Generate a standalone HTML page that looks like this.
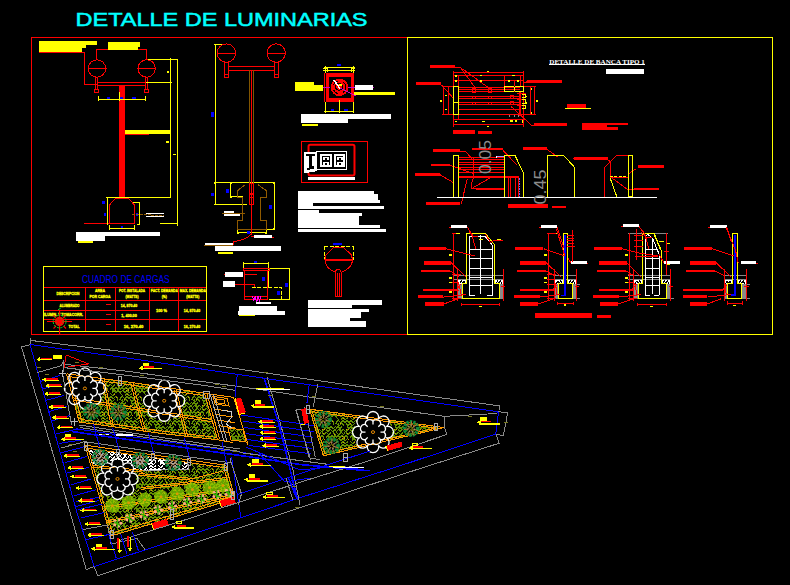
<!DOCTYPE html>
<html><head><meta charset="utf-8"><title>DETALLE DE LUMINARIAS</title>
<style>
html,body{margin:0;padding:0;background:#000;overflow:hidden}
svg{display:block}
text{font-family:"Liberation Sans",sans-serif}
.s{font-family:"Liberation Serif",serif}
.c{shape-rendering:crispEdges}
.r{stroke:#f00;fill:none}
.y{stroke:#ff0;fill:none}
.b{stroke:#00f;fill:none}
.w{stroke:#fff;fill:none}
.g{stroke:#888;fill:none}
.t *{vector-effect:non-scaling-stroke}
.fr{fill:#f00}.fy{fill:#ff0}.fw{fill:#fff}.fb{fill:#00f}
</style></head><body>
<svg width="790" height="585" viewBox="0 0 790 585">
<rect width="790" height="585" fill="#000"/>
<!-- title -->
<text x="75.5" y="25.6" font-size="19" fill="#0ff" stroke="#0ff" stroke-width="0.5" textLength="292" lengthAdjust="spacingAndGlyphs">DETALLE DE LUMINARIAS</text>
<!-- frames -->
<g class="c">
<path class="r" d="M407.5 37.5H31.5V334.5H407.5"/>
<rect class="y" x="407.5" y="37.5" width="365" height="297"/>
</g>

<!-- tile A: lamp elevation 1 (upper) -->
<g class="t c" transform="translate(20,30) scale(0.25641)">
<path class="fy" d="M75 43H300V58H258V72H240V88H75Z"/>
<path class="r" d="M75 89H240M240 86H250V212H300"/>
<path class="r" d="M298 115V75H493V115"/>
<path class="fy" d="M343 47H468V66H460V78H343Z"/>
<circle class="r" cx="300" cy="150" r="34"/><path class="r" d="M264 150H338"/>
<circle class="r" cx="494" cy="150" r="34"/><path class="r" d="M458 150H532"/>
<path class="r" d="M294 184V232H290V242H308V232H304V184M294 232H304"/>
<path class="r" d="M488 184V232H484V242H502V232H498V184M488 232H498"/>
<path class="r" d="M306 203H488M306 215H488"/>
<rect class="fr" x="388" y="215" width="22" height="400"/>
<path class="y" d="M305 270H488M305 258V278M388 240V278M488 258V278"/>
<rect class="fb" x="340" y="262" width="11" height="6"/><rect class="fb" x="391" y="261" width="12" height="8"/><rect class="fb" x="438" y="262" width="13" height="6"/>
<path class="y" d="M498 115H613V600M587 108V600M490 204H594"/>
<rect class="fy" x="410" y="391" width="177" height="15"/><path class="r" d="M410 408H502"/>
<rect class="fy" x="573" y="159" width="8" height="9"/><rect class="fy" x="569" y="432" width="12" height="8"/><rect class="fy" x="597" y="483" width="11" height="4"/>
</g>
<!-- tile A2: lamp elevation 1 (lower) -->
<g class="t c" transform="translate(20,170) scale(0.25641)">
<rect class="fr" x="388" y="0" width="22" height="112"/>
<path class="r" d="M350 135L372 112H425L445 135V210H350ZM250 210H350"/>
<path class="y" d="M340 108V215M335 108H590M587 0V108M613 0V218M545 210H613M467 128V212M350 228H445M350 214V234M445 214V234M440 128H467M455 212H467"/>
<rect class="fb" x="321" y="122" width="9" height="11"/><rect class="fb" x="326" y="167" width="9" height="11"/><rect class="fb" x="451" y="167" width="9" height="11"/><rect class="fb" x="392" y="218" width="9" height="9"/>
<path d="M435 172L560 178" stroke="#905a00" fill="none" stroke-dasharray="3 1"/>
<rect class="fw" x="490" y="167" width="70" height="6"/><rect class="fw" x="490" y="178" width="70" height="7"/>
<path class="fw" d="M218 242H547V256H332V278H218Z"/>
<rect class="fy" x="228" y="277" width="57" height="7"/>
</g>

<!-- table -->
<g class="c">
<rect class="y" x="43.5" y="266.5" width="163" height="65"/>
<path class="r" d="M44 287.5H206M44 300.5H206M44 310.5H150M44 319.5H206M85.5 288V331M115.5 288V331M149.5 288V331M178.5 288V331"/>
</g>
<text x="82" y="283.2" font-size="11.2" fill="#00f" textLength="87.5" lengthAdjust="spacingAndGlyphs">CUADRO DE CARGAS</text>
<g font-size="4.3" font-weight="bold" fill="#ff0" text-anchor="middle" stroke="#ff0" stroke-width="0.35">
<text x="68" y="294.6" textLength="23" lengthAdjust="spacingAndGlyphs">DESCRIPCION</text>
<text x="100" y="292.3" textLength="10" lengthAdjust="spacingAndGlyphs">AREA</text>
<text x="100" y="297.8" textLength="21" lengthAdjust="spacingAndGlyphs">POR CARGA</text>
<text x="132" y="292.3" textLength="26" lengthAdjust="spacingAndGlyphs">POT. INSTALADA</text>
<text x="132" y="297.8" textLength="13" lengthAdjust="spacingAndGlyphs">(WATTS)</text>
<text x="164.3" y="292.3" textLength="27" lengthAdjust="spacingAndGlyphs">FACT. DEMANDA</text>
<text x="164.3" y="297.8" textLength="5" lengthAdjust="spacingAndGlyphs">(%)</text>
<text x="192.8" y="292.3" textLength="26" lengthAdjust="spacingAndGlyphs">MAX. DEMANDA</text>
<text x="192.8" y="297.8" textLength="13" lengthAdjust="spacingAndGlyphs">(WATTS)</text>
<text x="69.5" y="307.3" textLength="20" lengthAdjust="spacingAndGlyphs">ALUMBRADO</text>
<text x="63.5" y="316.3" textLength="39" lengthAdjust="spacingAndGlyphs">ILUMIN. Y TOMACORR.</text>
<text x="74" y="327.5" textLength="11" lengthAdjust="spacingAndGlyphs">TOTAL</text>
<text x="129" y="306.8" textLength="16.5" lengthAdjust="spacingAndGlyphs">14, 870.40</text>
<text x="129" y="317.3" textLength="15.5" lengthAdjust="spacingAndGlyphs">1, 400.00</text>
<text x="133.5" y="327.5" textLength="19.5" lengthAdjust="spacingAndGlyphs">16, 270.40</text>
<text x="161.5" y="311.5" textLength="11" lengthAdjust="spacingAndGlyphs">100 %</text>
<text x="192" y="312.3" textLength="16.5" lengthAdjust="spacingAndGlyphs">14, 870.40</text>
<text x="192" y="327.5" textLength="16.5" lengthAdjust="spacingAndGlyphs">16, 270.40</text>
</g>
<g class="c"><path class="r" d="M106 304.5H111M106 314.5H111M106 324.5H111"/></g>
<!-- tree symbol on table -->
<g>
<path d="M47 321.5H72M59.6 310V334M53.5 315.5L56 318M65.5 315.5L63 318M53.5 328.5L56 326M66 328.5L63.5 326" stroke="#f00" stroke-width="1.1" fill="none"/>
<circle cx="59.6" cy="321.5" r="4.7" fill="#f00"/>
<circle cx="59.6" cy="321.5" r="6.4" fill="none" stroke="#0d2" stroke-width="1" stroke-dasharray="2.2 1.2"/>
<circle cx="59.6" cy="321.5" r="3.6" fill="none" stroke="#0d2" stroke-width="0.8" stroke-dasharray="1.2 1.8"/>
<path d="M58 309.8L60.8 308" stroke="#0d2" stroke-width="1" fill="none"/>
</g>

<!-- tile B: lamp elevation 2 (upper) s=3.9 -->
<g class="t c" transform="translate(200,30) scale(0.25641)">
<path class="y" d="M60 55V600M55 55H95"/>
<circle class="r" cx="103" cy="90" r="36"/><path class="r" d="M66 90H141"/>
<circle class="r" cx="297" cy="90" r="36"/><path class="r" d="M260 90H335"/>
<path class="r" d="M96 126V185H112V126M96 174H112M290 126V185H306V126M290 174H306"/>
<path class="r" d="M112 143H290M112 157H290M200 157V600"/>
<path d="M193 157V600M207 157V600" stroke="#805500" fill="none"/>
<rect class="fb" x="43" y="320" width="10" height="18"/>
<!-- control panel -->
</g>
<!-- ceiling lamp detail s=7.18 origin 290,55 -->
<g class="t c" transform="translate(290,55) scale(0.139276)">
<path class="fr" d="M262 130H460V335H262ZM283 155V310H440V155Z" fill-rule="evenodd"/>
<path class="r" d="M251 130V335"/>
<circle cx="355" cy="232" r="63" fill="#f00"/>
<circle cx="355" cy="232" r="46" fill="none" stroke="#000" stroke-dasharray="6 5" stroke-width="1"/>
<circle cx="352" cy="228" r="24" fill="none" stroke="#000" stroke-width="1"/>
<path d="M237 232H290M420 232H600M360 238L470 292" stroke="#c0c" fill="none"/>
<path d="M315 180L360 242" stroke="#fff" stroke-width="1.5" fill="none"/>
<rect class="fy" x="353" y="210" width="19" height="16"/>
<path class="fy" d="M37 195H170V215H235V258H37Z"/>
<rect class="fw" x="467" y="217" width="130" height="33"/>
<rect class="fy" x="460" y="265" width="295" height="23"/>
<path class="y" d="M245 88H468M240 108H470M257 80V130M455 80V130M252 335V415M355 320V415M457 335V415M247 408H462" stroke-width="1"/>
<path class="y" d="M240 100H272V125M470 100H440V125" />
<rect class="fb" x="338" y="65" width="27" height="17"/><rect class="fb" x="295" y="388" width="20" height="12"/><rect class="fb" x="388" y="388" width="27" height="12"/>
<path class="fw" d="M80 425H725V460H415V488H80Z"/>
<rect class="fy" x="88" y="495" width="112" height="15"/>
</g>
<!-- control panel s=7.18 origin 290,130 -->
<g class="t c" transform="translate(290,130) scale(0.139276)">
<rect class="r" x="80" y="80" width="478" height="298"/>
<rect class="r" x="133" y="106" width="330" height="220" rx="12" stroke-width="2" style="shape-rendering:auto"/>
<rect class="w" x="192" y="152" width="216" height="133"/>
<path class="fw" d="M103 158H192V295L103 312Z"/>
<path d="M118 170H180V184H160V262H175V275L125 290V276H138V184H118Z" fill="#000"/>
<rect x="222" y="176" width="70" height="86" fill="none" stroke="#fff" stroke-width="2"/>
<rect x="322" y="176" width="68" height="86" fill="none" stroke="#fff" stroke-width="2"/>
<path class="fw" d="M236 192H278V214H236ZM236 228H278V250H236ZM334 192H378V214H334ZM334 228H378V250H334Z"/>
<path d="M250 200H264V214H250ZM250 236H264V250H250ZM349 200H363V214H349ZM349 236H363V250H349Z" fill="#000"/>
<rect class="fw" x="130" y="338" width="337" height="20"/>
</g>
<!-- text block right s=7.18 origin 290,185 -->
<g class="t c" transform="translate(290,185) scale(0.139276)">
<path class="fw" d="M58 43H603V65H632V108H645V128H165V150H675V172H58ZM58 180H208V203H517V222H495V288H645V308H58ZM58 316H690V338H58Z"/>
</g>

<!-- tile B2: lamp elevation 2 (lower) s=3.9 origin 200,170 -->
<g class="t c" transform="translate(200,170) scale(0.25641)">
<path class="y" d="M60 0V135H185M60 50H290V232M120 50V105H167M147 245H258M148 232V250M258 232V250M255 232H290"/>
<rect class="fy" x="56" y="46" width="7" height="7"/><rect class="fy" x="116" y="46" width="7" height="7"/><rect class="fy" x="286" y="46" width="7" height="7"/><rect class="fy" x="56" y="131" width="7" height="7"/><rect class="fy" x="116" y="101" width="7" height="7"/><rect class="fy" x="286" y="228" width="7" height="7"/><rect class="fy" x="144" y="241" width="7" height="7"/><rect class="fy" x="254" y="241" width="7" height="7"/>
<rect class="fb" x="103" y="75" width="10" height="13"/><rect class="fb" x="43" y="90" width="10" height="10"/><rect class="fb" x="270" y="137" width="10" height="15"/><rect class="fb" x="185" y="238" width="10" height="10"/>
<path d="M176 58L147 80V106H167V197H147V232H258V197H236V106H258V80L227 58" stroke="#905a00" fill="none"/>
<path d="M193 0V52M207 0V52" stroke="#805500" fill="none"/>
<path class="r" d="M193 52H207V135H193ZM193 90H207M193 97H207M193 107H207M200 0V250C190 262 160 275 130 280V292"/>
<path d="M85 170H175M15 293H130" stroke="#905a00" fill="none"/>
<rect class="fw" x="92" y="160" width="40" height="8"/><rect class="fw" x="95" y="173" width="60" height="7"/>
<rect class="fw" x="210" y="253" width="72" height="12"/><path class="r" d="M200 258H210M282 262H288"/>
<rect class="fw" x="20" y="285" width="110" height="7"/>
<rect class="fw" x="58" y="298" width="257" height="17"/><rect class="fy" x="70" y="320" width="58" height="7"/>
<!-- lamp symbol -->
<path class="y" d="M485 297H597M487 297V350M597 297V350" stroke-dasharray="4 1.5"/>
<rect class="fb" x="520" y="283" width="33" height="10"/>
<path class="r" d="M487 350L492 330L520 303H560L590 330L595 350" />
<path class="r" d="M487 350C487 372 505 392 528 398M595 350C595 372 575 392 552 398"/>
<path class="r" d="M487 350H595" stroke-width="2"/>
<path class="r" d="M528 398V495H550V398C550 385 528 385 528 398M536 402V490M543 402V490"/>
</g>
<!-- junction box + text, s=3.76 origin 200,250 -->
<g class="t c" transform="translate(200,250) scale(0.265957)">
<path class="y" d="M163 50H258M165 45V70M257 45V70M258 70H337V187H258M258 70V140"/>
<path class="y" d="M195 140H305V187" stroke-dasharray="4 1.5"/>
<path class="r" d="M165 68H262V76H165ZM167 76V185H255V76M167 92H213M130 128H198C206 128 208 134 205 140M167 176H255" />
<path d="M197 172L203 190L208 172L213 200L218 172L224 190L230 172M212 200H268" stroke="#f0f" fill="none"/>
<rect class="fb" x="233" y="100" width="10" height="15"/><rect class="fb" x="320" y="125" width="10" height="13"/><rect class="fb" x="290" y="155" width="10" height="13"/><rect class="fb" x="203" y="42" width="10" height="7"/>
<rect class="fw" x="93" y="83" width="67" height="20"/><path class="r" d="M90 92H95"/>
<rect class="fw" x="88" y="117" width="42" height="21"/>
<rect class="fw" x="212" y="195" width="56" height="9"/>
<path class="fw" d="M148 210H290V230H318V243H143V230H148Z"/>
<rect class="fy" x="148" y="243" width="57" height="7"/>
<path class="fw" d="M407 188H685V205H570V218H407ZM407 222H635V235H605V255H565V268H625V288H407Z"/>
</g>

<!-- bench plan s=4.9375 origin 410,55 -->
<g class="t c" transform="translate(410,55) scale(0.202532)">
<rect class="fr" x="97" y="50" width="125" height="12"/><path class="r" d="M222 62H250L320 160M262 70L385 160"/>
<rect class="fr" x="28" y="135" width="127" height="12"/><path class="r" d="M155 147L215 215"/>
<rect class="fr" x="580" y="125" width="170" height="12"/><path class="r" d="M560 140L580 131"/>
<rect class="fr" x="610" y="337" width="165" height="12"/><path class="r" d="M610 347H600L500 255"/>
<rect class="fr" x="213" y="372" width="107" height="16"/><rect class="fr" x="337" y="375" width="66" height="13"/>
<path class="r" d="M213 85H560M213 103H560M213 128H560M215 80V355M558 80V355M213 320H560M213 345H560M240 103V320M467 100V155M547 103V155M517 128V155"/>
<path class="r" d="M165 155V298M190 155V298M160 155H215M160 295H215M593 155V298M617 155V298M560 155H620M560 295H620"/>
<path class="r" d="M240 160H545M240 172H545M240 181H545M240 205H545M240 213H545M240 236H545M240 244H545M240 268H545M240 295H558"/>
<path class="r" d="M310 165H324V185H310ZM388 165H400V185H388ZM310 205H324V213H310ZM388 205H400V213H388ZM310 236H324V244H310ZM388 236H400V244H388ZM498 198H510V216H498ZM498 228H510V246H498Z"/>
<path class="r" d="M540 180V300M548 180V300M530 190H575M530 220H575M530 250H575"/>
<rect class="y" x="213" y="155" width="27" height="140" rx="4"/><path class="y" d="M213 235H240"/>
<rect class="y" x="467" y="155" width="48" height="25" rx="5"/><rect class="y" x="517" y="155" width="43" height="25" rx="5"/>
<g class="fy">
<rect x="222" y="100" width="10" height="8"/><rect x="222" y="125" width="10" height="8"/><rect x="345" y="98" width="12" height="8"/><rect x="380" y="78" width="12" height="6"/><rect x="503" y="98" width="17" height="8"/><rect x="483" y="125" width="12" height="8"/><rect x="527" y="125" width="13" height="8"/>
<rect x="148" y="222" width="10" height="10"/><rect x="172" y="197" width="10" height="6"/><rect x="172" y="265" width="10" height="6"/><rect x="620" y="222" width="10" height="10"/><rect x="595" y="165" width="8" height="7"/><rect x="595" y="283" width="8" height="7"/>
<rect x="222" y="325" width="10" height="6"/><rect x="357" y="325" width="15" height="6"/><rect x="380" y="350" width="12" height="6"/><rect x="495" y="322" width="15" height="8"/><rect x="517" y="322" width="13" height="8"/><rect x="552" y="322" width="6" height="13"/>
<rect x="345" y="125" width="10" height="7"/>
</g>
<path class="y" d="M552 195H570V210H552M552 222H570V237H552M552 250H570V262H552"/>
<rect class="fy" x="572" y="200" width="8" height="8"/><rect class="fy" x="572" y="232" width="8" height="8"/>
<path class="g" d="M490 298V310M515 298V310M537 298V310" stroke-dasharray="2 1"/>
</g>

<!-- right panel title -->
<text class="s" x="549.3" y="64" font-size="7" font-weight="bold" fill="#fff" textLength="95.5" lengthAdjust="spacingAndGlyphs">DETALLE DE BANCA TIPO 1</text>
<g class="c"><path class="w" d="M549 64.5H645"/><rect class="fw" x="606" y="69" width="38" height="5"/></g>
<!-- misc right of plan s=4.9375 origin 530,50 -->
<g class="t c" transform="translate(530,50) scale(0.202532)">
<rect class="fr" x="183" y="267" width="94" height="18"/><path class="y" d="M173 289H302"/>
<path class="fr" d="M258 362H483V372H380V378H435V393H258Z"/>
</g>
<!-- bench elevations s=4.9375 origin 440,130 -->
<g class="t c" transform="translate(440,130) scale(0.202532)">
<rect class="fr" x="65" y="0" width="107" height="18"/><rect class="fr" x="190" y="5" width="65" height="13"/>
<rect class="fr" x="-33" y="96" width="133" height="11"/><path class="r" d="M98 105H125L165 150"/>
<rect class="fr" x="160" y="90" width="150" height="10"/><path class="r" d="M310 100L380 172"/>
<rect class="fr" x="-45" y="166" width="88" height="12"/><path class="r" d="M45 172L80 185L165 215"/>
<rect class="fr" x="-125" y="214" width="124" height="12"/><path class="r" d="M-1 220L68 261"/>
<rect class="fr" x="-71" y="356" width="171" height="14"/><path class="r" d="M105 365L135 240"/>
<rect class="fr" x="410" y="85" width="120" height="12"/><path class="r" d="M530 97L585 135"/>
<rect class="fr" x="663" y="135" width="150" height="13"/><path class="r" d="M655 145L663 140"/>
<path class="r" d="M92 135H318M92 148H318M92 160H318M92 172H318M92 185H318M92 197H318M92 210H318M165 140V240M160 240L155 290H310M155 290L250 235"/>
<rect class="fr" x="92" y="228" width="298" height="10"/>
<rect class="fr" x="180" y="288" width="135" height="7"/>
<path class="r" d="M340 238V332M350 238V332M372 238V332M388 238V332"/>
<rect class="y" x="67" y="125" width="25" height="207"/>
<path class="y" d="M318 332V125H370L412 212V332"/>
<path class="y" d="M530 332V125H610L665 185V332"/>
<path d="M275 133H318" stroke="#99f" fill="none"/><rect x="275" y="127" width="8" height="12" fill="#fff"/>
<path d="M388 228C394 228 392 260 393 332" stroke="#66f" fill="none" stroke-dasharray="1.5 1"/>
<path class="w" d="M-15 332H1072"/>
<rect class="fr" x="335" y="366" width="198" height="19"/><rect class="fr" x="553" y="375" width="67" height="10"/>
</g>
<g fill="#8c8c8c" font-size="16.5">
<text transform="translate(490.8,174) rotate(-90)" textLength="34" lengthAdjust="spacingAndGlyphs" >0.05</text>
<text transform="translate(545.5,204.5) rotate(-90)" textLength="35" lengthAdjust="spacingAndGlyphs">0.45</text>
</g>
<!-- side profile 2 s=3.9 origin 590,120 -->
<g class="t c" transform="translate(590,120) scale(0.25641)">
<rect class="fr" x="-30" y="145" width="102" height="11"/>
<path class="r" d="M57 300V185L103 140H150M72 156L80 165V222L145 270H270M150 210L180 190"/>
<rect class="fr" x="172" y="265" width="98" height="8"/><rect class="fr" x="187" y="177" width="103" height="10"/>
<rect class="y" x="150" y="138" width="15" height="162"/>
<path class="y" d="M78 225L105 300"/><path class="y" d="M78 222H150" stroke-dasharray="3 1.5"/><path class="r" d="M78 226H150"/>
</g>

<!-- section 1 s=5.85 origin 410,215 -->
<g class="t c" transform="translate(410,215) scale(0.17094)">
<rect x="283" y="403" width="22" height="87" fill="#888"/><rect x="525" y="403" width="20" height="87" fill="#888"/>
<path class="g" d="M250 352H545M250 378H545"/>
<rect class="fw" x="283" y="380" width="47" height="23"/><rect class="fw" x="497" y="380" width="46" height="23"/>
<path d="M290 400L300 385L308 398L316 386L324 400M503 400L512 386L520 398L528 386L537 400" stroke="#000" fill="none"/>
<path class="y" d="M330 400V107H440L495 175V400H525V490H305V400Z"/>
<path class="w" d="M348 470V125H440L485 180V470M413 118V460M348 200H485M348 255H485M348 312H485M348 365H485M348 415H485M348 470H380M450 470H485"/>
<rect class="fw" x="240" y="58" width="95" height="18"/><path class="r" d="M228 72H240M335 70L360 110L385 200M345 95L372 125H395"/>
<path class="r" d="M255 107V495M278 310V505M545 318V505M300 523H527M303 512V533M525 512V533M245 107H290M245 350H300M245 395H285M245 440H285M245 490H300M535 420H558"/>
<path class="fr" d="M55 187H210V203H55ZM80 270H240V290H80ZM65 320H235V332H65ZM75 432H270V443H75ZM45 468H195V485H45ZM90 510H200V530H90Z"/>
<path class="r" d="M210 197L380 240M240 278L330 365M235 328L285 358M270 440L300 400M195 480L330 465M200 520L285 488M285 400L300 470"/>
<g class="fy"><rect x="230" y="228" width="15" height="12"/><rect x="230" y="363" width="15" height="12"/><rect x="230" y="392" width="15" height="6"/><rect x="230" y="445" width="15" height="10"/><rect x="270" y="105" width="20" height="5"/><rect x="405" y="140" width="20" height="6"/><rect x="510" y="142" width="22" height="10"/><rect x="405" y="532" width="15" height="5"/></g>
<path class="r" d="M440 110L470 160L490 150H545"/>
</g>
<!-- section 2 s=5.85 origin 505,215 -->
<g class="t c" transform="translate(505,215) scale(0.17094)">
<rect x="292" y="405" width="20" height="85" fill="#888"/><rect x="395" y="405" width="20" height="85" fill="#888"/>
<path class="g" d="M290 352H415M290 378H415M395 405H440M395 490H440"/>
<rect class="fw" x="295" y="380" width="45" height="25"/><rect class="fw" x="368" y="380" width="47" height="25"/>
<path d="M300 402L310 386L318 400L326 386L335 402M373 402L382 386L392 400L400 386L410 402" stroke="#000" fill="none"/>
<path class="y" d="M340 400V107H368V400H395V488H312V400Z"/>
<path d="M352 115V470H325" stroke="#00f" stroke-width="1.6" fill="none"/>
<rect class="fw" x="210" y="58" width="95" height="18"/><path class="r" d="M198 72H210M305 70L345 190M300 80L350 240"/>
<rect class="fw" x="385" y="268" width="95" height="19"/><path class="r" d="M368 250L385 280M480 284H488"/>
<path class="r" d="M397 85V275M360 120H405M360 135H405M360 150H405M360 165H405M360 185H410"/>
<path class="r" d="M255 107V495M290 318V505M418 318V505M305 518H400M308 508V528M398 508V528M245 107H300M245 350H300M245 380H290M245 405H290M245 440H290M245 490H300M408 420H430"/>
<path class="fr" d="M60 187H225V203H60ZM85 270H240V290H85ZM72 320H240V332H72ZM90 432H280V443H90ZM50 468H205V485H50ZM85 510H195V530H85Z"/>
<path class="r" d="M225 197L350 240M240 278L330 365M240 328L290 355M280 440L300 410M205 480L320 465M195 520L290 488M295 400L305 470"/>
<g class="fy"><rect x="230" y="228" width="15" height="12"/><rect x="230" y="363" width="15" height="12"/><rect x="230" y="392" width="15" height="6"/><rect x="230" y="445" width="15" height="10"/><rect x="345" y="520" width="12" height="10"/><rect x="298" y="105" width="8" height="5"/></g>
</g>
<!-- section 3 s=5.85 origin 590,215 -->
<g class="t c" transform="translate(590,215) scale(0.17094)">
<rect x="258" y="405" width="24" height="85" fill="#888"/><rect x="445" y="405" width="23" height="85" fill="#888"/>
<path class="g" d="M225 352H470M225 378H470M225 107H455M445 490H490"/>
<rect class="fw" x="258" y="380" width="50" height="25"/><rect class="fw" x="420" y="380" width="48" height="25"/>
<path d="M264 402L274 386L282 400L291 386L300 402M426 402L435 386L444 400L452 386L462 402" stroke="#000" fill="none"/>
<path class="y" d="M308 400V107H375L418 210V400H445V488H282V400Z"/>
<path class="w" d="M322 470V122L340 115L365 135L405 230V470M365 140V465M322 200H395M322 255H405M322 312H405M322 365H405M322 415H405M322 470H350M375 470H405"/>
<rect class="fw" x="192" y="55" width="95" height="17"/><path class="r" d="M180 70H192M287 68L320 110L345 200M300 100L330 130H360"/>
<rect class="fw" x="432" y="268" width="96" height="19"/><path class="r" d="M405 230L432 280"/>
<path class="r" d="M272 80V265M255 120H310M255 150H310M255 185H310M265 240H400M232 107V495M445 107V350M255 318V505M470 318V505M275 523H447M278 512V533M445 512V533M222 350H260M222 395H258M222 440H258M222 490H275M460 420H485M435 215H460"/>
<path class="fr" d="M25 187H185V203H25ZM55 270H215V290H55ZM40 320H210V332H40ZM50 432H245V443H50ZM15 468H170V485H15ZM60 510H165V530H60Z"/>
<path class="r" d="M185 197L300 225L400 240M215 278L300 365M210 328L260 355M245 440L270 405M170 480L300 465M165 520L260 488M262 400L275 470"/>
<path class="y" d="M372 120L385 135L410 200M405 155H430"/>
<g class="fy"><rect x="205" y="228" width="17" height="12"/><rect x="205" y="363" width="17" height="12"/><rect x="205" y="392" width="17" height="6"/><rect x="205" y="445" width="17" height="10"/><rect x="352" y="530" width="15" height="7"/><rect x="452" y="163" width="15" height="5"/><rect x="450" y="285" width="17" height="7"/></g>
</g>
<!-- section 4 s=5.85 origin 675,215 -->
<g class="t c" transform="translate(675,215) scale(0.17094)">
<rect x="288" y="405" width="17" height="85" fill="#888"/><rect x="390" y="405" width="23" height="85" fill="#888"/>
<path class="g" d="M285 352H415M285 378H415M390 405H440M390 490H440"/>
<rect class="fw" x="290" y="380" width="45" height="25"/><rect class="fw" x="368" y="380" width="45" height="25"/>
<path d="M295 402L305 386L313 400L321 386L330 402M373 402L382 386L391 400L399 386L408 402" stroke="#000" fill="none"/>
<path class="y" d="M335 400V107H368V400H390V488H305V400Z"/>
<path d="M352 115V468H325" stroke="#00f" stroke-width="1.6" fill="none"/>
<rect class="fw" x="205" y="58" width="98" height="18"/><path class="r" d="M193 72H205M303 72L330 160M300 75L355 210L370 280"/>
<rect class="fw" x="385" y="268" width="90" height="19"/><path class="r" d="M475 284H483"/>
<path class="r" d="M287 318V505M418 318V505M305 515H395M308 505V525M393 505V525M405 420H430"/>
<path class="fr" d="M55 187H215V203H55ZM85 270H240V290H85ZM65 320H235V332H65ZM45 432H280V443H45ZM45 468H190V485H45ZM90 510H190V530H90Z"/>
<path class="r" d="M215 197L345 240M240 278L330 365M235 328L290 355M280 438L300 410M190 480L325 465M190 520L270 490M292 400L300 470"/>
<rect class="fy" x="340" y="525" width="15" height="6"/>
</g>
<!-- bottom note -->
<g class="c"><rect class="fr" x="535" y="312.5" width="57" height="5.5"/><rect class="fr" x="597" y="314.5" width="14" height="3"/></g>

<defs>
<pattern id="gh" width="24" height="24" patternUnits="userSpaceOnUse">
<rect width="24" height="24" fill="#000"/>
<path d="M0 0.5L3 2.5L5 0.5L8 2.5M10 0.5L12 2.5L14 0.5L17 2.5L19 0.5M21 0.5L23 2.5L26 0.5M0 5.5L2 3.5L4 5.5L6 3.5L8 5.5L10 3.5L12 5.5M14 5.5L16 3.5L18 5.5L20 3.5L22 5.5L24 3.5M0 8.5L3 6.5L5 8.5L7 6.5L9 8.5L12 6.5M14 8.5M16 8.5L18 6.5L20 8.5L22 6.5L24 8.5M0 9.5L3 11.5M5 11.5L7 9.5L9 11.5L12 9.5M14 9.5L17 11.5L19 9.5M22 9.5M24 9.5M0 14.5L2 12.5L5 14.5L7 12.5L9 14.5L11 12.5L13 14.5L15 12.5L17 14.5L20 12.5L22 14.5M24 14.5M0 15.5L3 17.5L6 15.5L8 17.5M10 15.5L12 17.5L14 15.5L16 17.5L19 15.5M21 15.5M23 15.5L26 17.5M0 20.5L2 18.5L4 20.5L6 18.5M8 20.5M11 18.5L13 20.5L15 18.5L17 20.5L19 18.5L21 20.5L24 18.5M0 23.5L3 21.5L5 23.5L7 21.5L10 23.5L12 21.5M14 21.5L16 23.5L18 21.5L21 23.5L23 21.5L25 23.5M2.5 15v2M0.5 7v2M22.5 3v2M15.5 19v2M21.5 15v2M8.5 0v2M11.5 9v2M4.5 21v2M19.5 6v2M16.5 5v2" stroke="#628f00" stroke-width="1" fill="none" shape-rendering="crispEdges"/>
<rect x="10" y="21" width="1" height="1" fill="#d90"/><rect x="14" y="15" width="1" height="1" fill="#d90"/><rect x="7" y="10" width="1" height="1" fill="#d90"/><rect x="12" y="21" width="1" height="1" fill="#d90"/><rect x="8" y="6" width="1" height="1" fill="#d90"/><rect x="20" y="13" width="1" height="1" fill="#d90"/><rect x="6" y="6" width="1" height="1" fill="#d90"/><rect x="12" y="7" width="1" height="1" fill="#d90"/><rect x="18" y="10" width="1" height="1" fill="#d90"/><rect x="6" y="4" width="1" height="1" fill="#d90"/><rect x="4" y="15" width="1" height="1" fill="#d90"/><rect x="11" y="1" width="1" height="1" fill="#d90"/><rect x="22" y="2" width="1" height="1" fill="#d90"/><rect x="8" y="5" width="1" height="1" fill="#d90"/>
</pattern>
<pattern id="wh" width="24" height="24" patternUnits="userSpaceOnUse">
<rect width="24" height="24" fill="#000"/>
<path d="M0 0.5L3 2.5L5 0.5L8 2.5M10 0.5L12 2.5L14 0.5L17 2.5L19 0.5M21 0.5L23 2.5L26 0.5M0 5.5L2 3.5L4 5.5L6 3.5L8 5.5L10 3.5L12 5.5M14 5.5L16 3.5L18 5.5L20 3.5L22 5.5L24 3.5M0 8.5L3 6.5L5 8.5L7 6.5L9 8.5L12 6.5M14 8.5M16 8.5L18 6.5L20 8.5L22 6.5L24 8.5M0 9.5L3 11.5M5 11.5L7 9.5L9 11.5L12 9.5M14 9.5L17 11.5L19 9.5M22 9.5M24 9.5M0 14.5L2 12.5L5 14.5L7 12.5L9 14.5L11 12.5L13 14.5L15 12.5L17 14.5L20 12.5L22 14.5M24 14.5M0 15.5L3 17.5L6 15.5L8 17.5M10 15.5L12 17.5L14 15.5L16 17.5L19 15.5M21 15.5M23 15.5L26 17.5M0 20.5L2 18.5L4 20.5L6 18.5M8 20.5M11 18.5L13 20.5L15 18.5L17 20.5L19 18.5L21 20.5L24 18.5M0 23.5L3 21.5L5 23.5L7 21.5L10 23.5L12 21.5M14 21.5L16 23.5L18 21.5L21 23.5L23 21.5L25 23.5M2.5 15v2M0.5 7v2M22.5 3v2M15.5 19v2M21.5 15v2M8.5 0v2M11.5 9v2M4.5 21v2M19.5 6v2M16.5 5v2" stroke="#fff" stroke-width="1" fill="none" shape-rendering="crispEdges"/>
</pattern>
</defs>
<g class="c">
<path d="M66.5 373.8L130.0 382.3L204.5 393.2L217.6 439.8L160.0 433.3L79.2 422.0Z" fill="url(#gh)" />
<circle cx="84.9" cy="388.4" r="19.0" fill="#000"/><circle cx="164.2" cy="400.8" r="19.0" fill="#000"/>
<path d="M66.5 373.8L130.0 382.3L204.5 393.2L233.6 397.4L248.3 445.5" stroke="#f90" stroke-width="1" fill="none" />
<path d="M68.0 376.5L130.0 384.8L203.0 395.5" stroke="#f90" stroke-width="1" fill="none" />
<path d="M66.5 373.8L79.2 422.0L160.0 433.3L217.6 439.8L233.0 442.5" stroke="#f90" stroke-width="1" fill="none" />
<path d="M81.0 419.5L160.0 430.8L216.0 437.3" stroke="#f90" stroke-width="1" fill="none" />
<path d="M69.3 374.5L81.8 421.5" stroke="#f90" stroke-width="1" fill="none" />
<path d="M204.5 393.2L217.6 439.8" stroke="#f90" stroke-width="1" fill="none" /><path d="M206.6 392.6L219.7 439.2" stroke="#f90" stroke-width="1" fill="none" />
<path d="M104.4 379.5L113.5 426.5" stroke="#f90" stroke-width="1" fill="none" /><path d="M102.2 379.9L111.3 426.9" stroke="#f90" stroke-width="1" fill="none" />
<path d="M133.0 383.5L145.5 431.0" stroke="#f90" stroke-width="1" fill="none" /><path d="M130.9 384.1L143.4 431.6" stroke="#f90" stroke-width="1" fill="none" />
<path d="M176.0 389.5L188.0 436.5" stroke="#f90" stroke-width="1" fill="none" /><path d="M173.9 390.0L185.9 437.0" stroke="#f90" stroke-width="1" fill="none" />
<path d="M73.0 397.8L212.0 419.5" stroke="#f90" stroke-width="1" fill="none" /><path d="M72.7 400.0L211.7 421.7" stroke="#f90" stroke-width="1" fill="none" />
<path d="M213.0 396.5L227.0 398.5L229.0 406.0L215.0 404.0Z" stroke="#f90" stroke-width="1" fill="none" />
<path d="M216.0 398.8L224.0 400.0L225.0 404.0L217.0 402.8Z" stroke="#f90" stroke-width="1" fill="none" />
<path d="M214.0 409.0L232.0 411.6" stroke="#f90" stroke-width="1" fill="none" />
<path d="M215.3 414.5L233.3 417.1" stroke="#f90" stroke-width="1" fill="none" />
<path d="M216.6 420.0L234.6 422.6" stroke="#f90" stroke-width="1" fill="none" />
<path d="M217.9 425.5L235.9 428.1" stroke="#f90" stroke-width="1" fill="none" />
<path d="M219.2 431.0L237.2 433.6" stroke="#f90" stroke-width="1" fill="none" />
<path d="M228.0 428.0L243.0 430.0L246.0 442.0L231.0 440.0Z" stroke="#f90" stroke-width="1" fill="url(#gh)" />
<path d="M210.0 394.0L224.0 441.0" stroke="#aaa" stroke-width="1" fill="none" />
<path d="M213.5 394.0L227.0 441.0" stroke="#aaa" stroke-width="1" fill="none" />
<path d="M203.0 391.0L209.0 391.0L209.0 398.5L203.0 398.5Z" stroke="#aaa" stroke-width="1" fill="none" />
<path d="M222.0 410.0L232.0 412.0L231.0 418.0L226.0 424.0L232.0 428.0" stroke="#ccc" stroke-width="1" fill="none" />
<path d="M92.2 465.3L142.8 470.4L188.4 469.4L188.4 463.9L225.8 465.3L234.9 498.7L110.4 536.2Z" fill="url(#gh)" />
<path d="M88.0 448.5L188.4 462.5L188.4 469.4L142.8 470.4L92.2 465.3Z" fill="url(#wh)" />
<circle cx="117.5" cy="478.9" r="19.0" fill="#000"/>
<path d="M85.1 445.1L225.8 465.3L234.9 498.7L110.4 536.2Z" stroke="#f90" stroke-width="1" fill="none" />
<path d="M88.0 448.3L223.8 467.5L232.0 497.0L112.3 533.0Z" stroke="#f90" stroke-width="1" fill="none" />
<path d="M92.2 465.3L142.8 470.4" stroke="#f90" stroke-width="1" fill="none" /><path d="M92.0 467.1L142.6 472.2" stroke="#f90" stroke-width="1" fill="none" />
<path d="M142.8 470.4L188.4 469.4L188.4 463.9" stroke="#aaa" stroke-width="1" fill="none" />
<path d="M138.7 473.4L193.4 478.5" stroke="#f90" stroke-width="1" fill="none" /><path d="M138.5 475.2L193.2 480.3" stroke="#f90" stroke-width="1" fill="none" />
<path d="M193.4 478.5L225.8 470.4" stroke="#f90" stroke-width="1" fill="none" />
<path d="M140.8 487.6L226.8 477.5" stroke="#f90" stroke-width="1" fill="none" /><path d="M141.0 489.4L227.0 479.3" stroke="#f90" stroke-width="1" fill="none" />
<path d="M104.3 506.8L230.9 488.6" stroke="#f90" stroke-width="1" fill="none" /><path d="M104.6 508.6L231.2 490.4" stroke="#f90" stroke-width="1" fill="none" />
<path d="M106.3 521.0L231.9 494.7" stroke="#f90" stroke-width="1" fill="none" /><path d="M106.7 522.8L232.3 496.5" stroke="#f90" stroke-width="1" fill="none" />
<path d="M309.6 409.2L443.9 427.5L323.4 455.8Z" fill="url(#gh)" />
<circle cx="373" cy="432.1" r="19.0" fill="#000"/>
<path d="M309.6 409.2L443.9 427.5L323.4 455.8Z" stroke="#f90" stroke-width="1" fill="none" />
<path d="M312.3 411.7L436.0 428.0L325.2 453.3Z" stroke="#f90" stroke-width="1" fill="none" />
</g>
<circle cx="84.9" cy="388.4" r="12" fill="#000"/><path d="M98.0 393.8A5.69 5.69 0 1 1 90.3 401.5M90.3 401.5A5.69 5.69 0 1 1 79.5 401.5M79.5 401.5A5.69 5.69 0 1 1 71.8 393.8M71.8 393.8A5.69 5.69 0 1 1 71.8 383.0M71.8 383.0A5.69 5.69 0 1 1 79.5 375.3M79.5 375.3A5.69 5.69 0 1 1 90.3 375.3M90.3 375.3A5.69 5.69 0 1 1 98.0 383.0M98.0 383.0A5.69 5.69 0 1 1 98.0 393.8M92.5 396.0A4.26 4.26 0 0 1 84.9 399.2M84.9 399.2A4.26 4.26 0 0 1 77.3 396.0M77.3 396.0A4.26 4.26 0 0 1 74.1 388.4M74.1 388.4A4.26 4.26 0 0 1 77.3 380.8M77.3 380.8A4.26 4.26 0 0 1 84.9 377.6M84.9 377.6A4.26 4.26 0 0 1 92.5 380.8M92.5 380.8A4.26 4.26 0 0 1 95.7 388.4M95.7 388.4A4.26 4.26 0 0 1 92.5 396.0M92.5 396.0L90.2 393.7M84.9 399.2L84.9 395.9M77.3 396.0L79.6 393.7M74.1 388.4L77.4 388.4M77.3 380.8L79.6 383.1M84.9 377.6L84.9 380.9M92.5 380.8L90.2 383.1M95.7 388.4L92.4 388.4" fill="none" stroke="#fff" stroke-width="1.3"/><ellipse cx="84.9" cy="388.4" rx="1.6" ry="1.4" fill="none" stroke="#f90" stroke-width="0.9"/>
<circle cx="164.2" cy="400.8" r="12" fill="#000"/><path d="M177.3 406.2A5.69 5.69 0 1 1 169.6 413.9M169.6 413.9A5.69 5.69 0 1 1 158.8 413.9M158.8 413.9A5.69 5.69 0 1 1 151.1 406.2M151.1 406.2A5.69 5.69 0 1 1 151.1 395.4M151.1 395.4A5.69 5.69 0 1 1 158.8 387.7M158.8 387.7A5.69 5.69 0 1 1 169.6 387.7M169.6 387.7A5.69 5.69 0 1 1 177.3 395.4M177.3 395.4A5.69 5.69 0 1 1 177.3 406.2M171.8 408.4A4.26 4.26 0 0 1 164.2 411.6M164.2 411.6A4.26 4.26 0 0 1 156.6 408.4M156.6 408.4A4.26 4.26 0 0 1 153.4 400.8M153.4 400.8A4.26 4.26 0 0 1 156.6 393.2M156.6 393.2A4.26 4.26 0 0 1 164.2 390.0M164.2 390.0A4.26 4.26 0 0 1 171.8 393.2M171.8 393.2A4.26 4.26 0 0 1 175.0 400.8M175.0 400.8A4.26 4.26 0 0 1 171.8 408.4M171.8 408.4L169.5 406.1M164.2 411.6L164.2 408.3M156.6 408.4L158.9 406.1M153.4 400.8L156.7 400.8M156.6 393.2L158.9 395.5M164.2 390.0L164.2 393.3M171.8 393.2L169.5 395.5M175.0 400.8L171.7 400.8" fill="none" stroke="#fff" stroke-width="1.3"/><ellipse cx="164.2" cy="400.8" rx="1.6" ry="1.4" fill="none" stroke="#f90" stroke-width="0.9"/>
<circle cx="117.5" cy="478.9" r="12" fill="#000"/><path d="M130.6 484.3A5.69 5.69 0 1 1 122.9 492.0M122.9 492.0A5.69 5.69 0 1 1 112.1 492.0M112.1 492.0A5.69 5.69 0 1 1 104.4 484.3M104.4 484.3A5.69 5.69 0 1 1 104.4 473.5M104.4 473.5A5.69 5.69 0 1 1 112.1 465.8M112.1 465.8A5.69 5.69 0 1 1 122.9 465.8M122.9 465.8A5.69 5.69 0 1 1 130.6 473.5M130.6 473.5A5.69 5.69 0 1 1 130.6 484.3M125.1 486.5A4.26 4.26 0 0 1 117.5 489.7M117.5 489.7A4.26 4.26 0 0 1 109.9 486.5M109.9 486.5A4.26 4.26 0 0 1 106.7 478.9M106.7 478.9A4.26 4.26 0 0 1 109.9 471.3M109.9 471.3A4.26 4.26 0 0 1 117.5 468.1M117.5 468.1A4.26 4.26 0 0 1 125.1 471.3M125.1 471.3A4.26 4.26 0 0 1 128.3 478.9M128.3 478.9A4.26 4.26 0 0 1 125.1 486.5M125.1 486.5L122.8 484.2M117.5 489.7L117.5 486.4M109.9 486.5L112.2 484.2M106.7 478.9L110.0 478.9M109.9 471.3L112.2 473.6M117.5 468.1L117.5 471.4M125.1 471.3L122.8 473.6M128.3 478.9L125.0 478.9" fill="none" stroke="#fff" stroke-width="1.3"/><ellipse cx="117.5" cy="478.9" rx="1.6" ry="1.4" fill="none" stroke="#f90" stroke-width="0.9"/>
<circle cx="373" cy="432.1" r="12" fill="#000"/><path d="M386.1 437.5A5.69 5.69 0 1 1 378.4 445.2M378.4 445.2A5.69 5.69 0 1 1 367.6 445.2M367.6 445.2A5.69 5.69 0 1 1 359.9 437.5M359.9 437.5A5.69 5.69 0 1 1 359.9 426.7M359.9 426.7A5.69 5.69 0 1 1 367.6 419.0M367.6 419.0A5.69 5.69 0 1 1 378.4 419.0M378.4 419.0A5.69 5.69 0 1 1 386.1 426.7M386.1 426.7A5.69 5.69 0 1 1 386.1 437.5M380.6 439.7A4.26 4.26 0 0 1 373.0 442.9M373.0 442.9A4.26 4.26 0 0 1 365.4 439.7M365.4 439.7A4.26 4.26 0 0 1 362.2 432.1M362.2 432.1A4.26 4.26 0 0 1 365.4 424.5M365.4 424.5A4.26 4.26 0 0 1 373.0 421.3M373.0 421.3A4.26 4.26 0 0 1 380.6 424.5M380.6 424.5A4.26 4.26 0 0 1 383.8 432.1M383.8 432.1A4.26 4.26 0 0 1 380.6 439.7M380.6 439.7L378.3 437.4M373.0 442.9L373.0 439.6M365.4 439.7L367.7 437.4M362.2 432.1L365.5 432.1M365.4 424.5L367.7 426.8M373.0 421.3L373.0 424.6M380.6 424.5L378.3 426.8M383.8 432.1L380.5 432.1" fill="none" stroke="#fff" stroke-width="1.3"/><ellipse cx="373" cy="432.1" rx="1.6" ry="1.4" fill="none" stroke="#f90" stroke-width="0.9"/>
<circle cx="91.4" cy="411.5" r="8.5" fill="#000" fill-opacity="0.35"/><circle cx="91.4" cy="411.5" r="6.6" fill="none" stroke="#0a8a3a" stroke-width="3.6" stroke-dasharray="2.2 1.1"/><path d="M92.8 411.9L98.3 413.6M91.9 412.9L94.0 418.2M90.6 412.8L87.8 417.8M89.9 411.7L84.3 412.6M90.3 410.5L86.1 406.6M91.5 410.0L91.9 404.3M92.6 410.7L97.4 407.4" stroke="#b07030" stroke-width="1" fill="none"/><circle cx="91.4" cy="411.5" r="3.4" fill="none" stroke="#999" stroke-width="0.9" stroke-dasharray="1.5 1.5"/>
<circle cx="118.3" cy="412.2" r="8.5" fill="#000" fill-opacity="0.35"/><circle cx="118.3" cy="412.2" r="6.6" fill="none" stroke="#0a8a3a" stroke-width="3.6" stroke-dasharray="2.2 1.1"/><path d="M119.7 412.6L125.2 414.3M118.8 413.6L120.9 418.9M117.5 413.5L114.7 418.5M116.8 412.4L111.2 413.3M117.2 411.2L113.0 407.3M118.4 410.7L118.8 405.0M119.5 411.4L124.3 408.1" stroke="#b07030" stroke-width="1" fill="none"/><circle cx="118.3" cy="412.2" r="3.4" fill="none" stroke="#999" stroke-width="0.9" stroke-dasharray="1.5 1.5"/>
<circle cx="100.3" cy="457.2" r="8.5" fill="#000" fill-opacity="0.35"/><circle cx="100.3" cy="457.2" r="6.6" fill="none" stroke="#0a8a3a" stroke-width="3.6" stroke-dasharray="2.2 1.1"/><path d="M101.7 457.6L107.2 459.3M100.8 458.6L102.9 463.9M99.5 458.5L96.7 463.5M98.8 457.4L93.2 458.3M99.2 456.2L95.0 452.3M100.4 455.7L100.8 450.0M101.5 456.4L106.3 453.1" stroke="#b07030" stroke-width="1" fill="none"/><circle cx="100.3" cy="457.2" r="3.4" fill="none" stroke="#999" stroke-width="0.9" stroke-dasharray="1.5 1.5"/>
<circle cx="140.2" cy="460.3" r="8.5" fill="#000" fill-opacity="0.35"/><circle cx="140.2" cy="460.3" r="6.6" fill="none" stroke="#0a8a3a" stroke-width="3.6" stroke-dasharray="2.2 1.1"/><path d="M141.6 460.7L147.1 462.4M140.7 461.7L142.8 467.0M139.4 461.6L136.6 466.6M138.7 460.5L133.1 461.4M139.1 459.3L134.9 455.4M140.3 458.8L140.7 453.1M141.4 459.5L146.2 456.2" stroke="#b07030" stroke-width="1" fill="none"/><circle cx="140.2" cy="460.3" r="3.4" fill="none" stroke="#999" stroke-width="0.9" stroke-dasharray="1.5 1.5"/>
<circle cx="173.2" cy="462.7" r="8.5" fill="#000" fill-opacity="0.35"/><circle cx="173.2" cy="462.7" r="6.6" fill="none" stroke="#0a8a3a" stroke-width="3.6" stroke-dasharray="2.2 1.1"/><path d="M174.6 463.1L180.1 464.8M173.7 464.1L175.8 469.4M172.4 464.0L169.6 469.0M171.7 462.9L166.1 463.8M172.1 461.7L167.9 457.8M173.3 461.2L173.7 455.5M174.4 461.9L179.2 458.6" stroke="#b07030" stroke-width="1" fill="none"/><circle cx="173.2" cy="462.7" r="3.4" fill="none" stroke="#999" stroke-width="0.9" stroke-dasharray="1.5 1.5"/>
<circle cx="323.4" cy="419.4" r="8.5" fill="#000" fill-opacity="0.35"/><circle cx="323.4" cy="419.4" r="6.6" fill="none" stroke="#0a8a3a" stroke-width="3.6" stroke-dasharray="2.2 1.1"/><path d="M324.8 419.8L330.3 421.5M323.9 420.8L326.0 426.1M322.6 420.7L319.8 425.7M321.9 419.6L316.3 420.5M322.3 418.4L318.1 414.5M323.5 417.9L323.9 412.2M324.6 418.6L329.4 415.3" stroke="#b07030" stroke-width="1" fill="none"/><circle cx="323.4" cy="419.4" r="3.4" fill="none" stroke="#999" stroke-width="0.9" stroke-dasharray="1.5 1.5"/>
<circle cx="331.5" cy="445.7" r="8.5" fill="#000" fill-opacity="0.35"/><circle cx="331.5" cy="445.7" r="6.6" fill="none" stroke="#0a8a3a" stroke-width="3.6" stroke-dasharray="2.2 1.1"/><path d="M332.9 446.1L338.4 447.8M332.0 447.1L334.1 452.4M330.7 447.0L327.9 452.0M330.0 445.9L324.4 446.8M330.4 444.7L326.2 440.8M331.6 444.2L332.0 438.5M332.7 444.9L337.5 441.6" stroke="#b07030" stroke-width="1" fill="none"/><circle cx="331.5" cy="445.7" r="3.4" fill="none" stroke="#999" stroke-width="0.9" stroke-dasharray="1.5 1.5"/>
<circle cx="411.1" cy="428.5" r="8.5" fill="#000" fill-opacity="0.35"/><circle cx="411.1" cy="428.5" r="6.6" fill="none" stroke="#0a8a3a" stroke-width="3.6" stroke-dasharray="2.2 1.1"/><path d="M412.5 428.9L418.0 430.6M411.6 429.9L413.7 435.2M410.3 429.8L407.5 434.8M409.6 428.7L404.0 429.6M410.0 427.5L405.8 423.6M411.2 427.0L411.6 421.3M412.3 427.7L417.1 424.4" stroke="#b07030" stroke-width="1" fill="none"/><circle cx="411.1" cy="428.5" r="3.4" fill="none" stroke="#999" stroke-width="0.9" stroke-dasharray="1.5 1.5"/>
<circle cx="112.4" cy="505.8" r="7" fill="#9c0" fill-opacity="0.75"/><path d="M112.4 505.8L118.5 509.2M112.4 505.8L112.6 512.8M112.4 505.8L106.4 509.4M112.4 505.8L106.3 502.4M112.4 505.8L112.2 498.8M112.4 505.8L118.4 502.2" stroke="#5a0" stroke-width="1" fill="none"/><circle cx="112.4" cy="505.8" r="1.5" fill="#d90"/>
<circle cx="128.6" cy="502.8" r="7" fill="#9c0" fill-opacity="0.75"/><path d="M128.6 502.8L134.7 506.2M128.6 502.8L128.8 509.8M128.6 502.8L122.6 506.4M128.6 502.8L122.5 499.4M128.6 502.8L128.4 495.8M128.6 502.8L134.6 499.2" stroke="#5a0" stroke-width="1" fill="none"/><circle cx="128.6" cy="502.8" r="1.5" fill="#d90"/>
<circle cx="144.8" cy="499.7" r="7" fill="#9c0" fill-opacity="0.75"/><path d="M144.8 499.7L150.9 503.1M144.8 499.7L145.0 506.7M144.8 499.7L138.8 503.3M144.8 499.7L138.7 496.3M144.8 499.7L144.6 492.7M144.8 499.7L150.8 496.1" stroke="#5a0" stroke-width="1" fill="none"/><circle cx="144.8" cy="499.7" r="1.5" fill="#d90"/>
<circle cx="161" cy="496.7" r="7" fill="#9c0" fill-opacity="0.75"/><path d="M161.0 496.7L167.1 500.1M161.0 496.7L161.2 503.7M161.0 496.7L155.0 500.3M161.0 496.7L154.9 493.3M161.0 496.7L160.8 489.7M161.0 496.7L167.0 493.1" stroke="#5a0" stroke-width="1" fill="none"/><circle cx="161" cy="496.7" r="1.5" fill="#d90"/>
<circle cx="177.2" cy="493.7" r="7" fill="#9c0" fill-opacity="0.75"/><path d="M177.2 493.7L183.3 497.1M177.2 493.7L177.4 500.7M177.2 493.7L171.2 497.3M177.2 493.7L171.1 490.3M177.2 493.7L177.0 486.7M177.2 493.7L183.2 490.1" stroke="#5a0" stroke-width="1" fill="none"/><circle cx="177.2" cy="493.7" r="1.5" fill="#d90"/>
<circle cx="192.4" cy="489.6" r="7" fill="#9c0" fill-opacity="0.75"/><path d="M192.4 489.6L198.5 493.0M192.4 489.6L192.6 496.6M192.4 489.6L186.4 493.2M192.4 489.6L186.3 486.2M192.4 489.6L192.2 482.6M192.4 489.6L198.4 486.0" stroke="#5a0" stroke-width="1" fill="none"/><circle cx="192.4" cy="489.6" r="1.5" fill="#d90"/>
<circle cx="209.6" cy="487.6" r="7" fill="#9c0" fill-opacity="0.75"/><path d="M209.6 487.6L215.7 491.0M209.6 487.6L209.8 494.6M209.6 487.6L203.6 491.2M209.6 487.6L203.5 484.2M209.6 487.6L209.4 480.6M209.6 487.6L215.6 484.0" stroke="#5a0" stroke-width="1" fill="none"/><circle cx="209.6" cy="487.6" r="1.5" fill="#d90"/>
<circle cx="222.8" cy="485.6" r="7" fill="#9c0" fill-opacity="0.75"/><path d="M222.8 485.6L228.9 489.0M222.8 485.6L223.0 492.6M222.8 485.6L216.8 489.2M222.8 485.6L216.7 482.2M222.8 485.6L222.6 478.6M222.8 485.6L228.8 482.0" stroke="#5a0" stroke-width="1" fill="none"/><circle cx="222.8" cy="485.6" r="1.5" fill="#d90"/>
<circle cx="118.7" cy="519.9" r="1.5" fill="#fa8"/><circle cx="120.9" cy="523.2" r="1.5" fill="#fa8"/><circle cx="118.4" cy="526.3" r="1.5" fill="#fa8"/><circle cx="114.7" cy="524.8" r="1.5" fill="#fa8"/><circle cx="114.9" cy="520.9" r="1.5" fill="#fa8"/><path d="M117.5 518.5V527.5M114.35 521.65L120.65 525.7" stroke="#3b0" stroke-width="1.3" fill="none"/>
<circle cx="130.8" cy="514.9" r="1.5" fill="#fa8"/><circle cx="133.0" cy="518.2" r="1.5" fill="#fa8"/><circle cx="130.5" cy="521.3" r="1.5" fill="#fa8"/><circle cx="126.8" cy="519.8" r="1.5" fill="#fa8"/><circle cx="127.0" cy="515.9" r="1.5" fill="#fa8"/><path d="M129.6 513.5V522.5M126.44999999999999 516.65L132.75 520.7" stroke="#3b0" stroke-width="1.3" fill="none"/>
<circle cx="145.0" cy="511.8" r="1.5" fill="#fa8"/><circle cx="147.2" cy="515.1" r="1.5" fill="#fa8"/><circle cx="144.7" cy="518.2" r="1.5" fill="#fa8"/><circle cx="141.0" cy="516.7" r="1.5" fill="#fa8"/><circle cx="141.2" cy="512.8" r="1.5" fill="#fa8"/><path d="M143.8 510.4V519.4M140.65 513.55L146.95000000000002 517.6" stroke="#3b0" stroke-width="1.3" fill="none"/>
<circle cx="159.2" cy="506.8" r="1.5" fill="#fa8"/><circle cx="161.4" cy="510.1" r="1.5" fill="#fa8"/><circle cx="158.9" cy="513.2" r="1.5" fill="#fa8"/><circle cx="155.2" cy="511.7" r="1.5" fill="#fa8"/><circle cx="155.4" cy="507.8" r="1.5" fill="#fa8"/><path d="M158 505.4V514.4M154.85 508.54999999999995L161.15 512.6" stroke="#3b0" stroke-width="1.3" fill="none"/>
<circle cx="173.4" cy="502.7" r="1.5" fill="#fa8"/><circle cx="175.6" cy="506.0" r="1.5" fill="#fa8"/><circle cx="173.1" cy="509.1" r="1.5" fill="#fa8"/><circle cx="169.4" cy="507.6" r="1.5" fill="#fa8"/><circle cx="169.6" cy="503.7" r="1.5" fill="#fa8"/><path d="M172.2 501.3V510.3M169.04999999999998 504.45L175.35 508.5" stroke="#3b0" stroke-width="1.3" fill="none"/>
<circle cx="188.5" cy="498.7" r="1.5" fill="#fa8"/><circle cx="190.7" cy="502.0" r="1.5" fill="#fa8"/><circle cx="188.2" cy="505.1" r="1.5" fill="#fa8"/><circle cx="184.5" cy="503.6" r="1.5" fill="#fa8"/><circle cx="184.7" cy="499.7" r="1.5" fill="#fa8"/><path d="M187.3 497.3V506.3M184.15 500.45L190.45000000000002 504.5" stroke="#3b0" stroke-width="1.3" fill="none"/>
<circle cx="202.7" cy="495.6" r="1.5" fill="#fa8"/><circle cx="204.9" cy="498.9" r="1.5" fill="#fa8"/><circle cx="202.4" cy="502.0" r="1.5" fill="#fa8"/><circle cx="198.7" cy="500.5" r="1.5" fill="#fa8"/><circle cx="198.9" cy="496.6" r="1.5" fill="#fa8"/><path d="M201.5 494.2V503.2M198.35 497.34999999999997L204.65 501.4" stroke="#3b0" stroke-width="1.3" fill="none"/>
<circle cx="217.9" cy="491.6" r="1.5" fill="#fa8"/><circle cx="220.1" cy="494.9" r="1.5" fill="#fa8"/><circle cx="217.6" cy="498.0" r="1.5" fill="#fa8"/><circle cx="213.9" cy="496.5" r="1.5" fill="#fa8"/><circle cx="214.1" cy="492.6" r="1.5" fill="#fa8"/><path d="M216.7 490.2V499.2M213.54999999999998 493.34999999999997L219.85 497.4" stroke="#3b0" stroke-width="1.3" fill="none"/>
<circle cx="230.1" cy="489.6" r="1.5" fill="#fa8"/><circle cx="232.3" cy="492.9" r="1.5" fill="#fa8"/><circle cx="229.8" cy="496.0" r="1.5" fill="#fa8"/><circle cx="226.1" cy="494.5" r="1.5" fill="#fa8"/><circle cx="226.3" cy="490.6" r="1.5" fill="#fa8"/><path d="M228.9 488.2V497.2M225.75 491.34999999999997L232.05 495.4" stroke="#3b0" stroke-width="1.3" fill="none"/>
<g class="c">
<path d="M30.5 340.4L130.0 352.5L250.0 370.7L370.0 388.1L499.2 405.8L499.7 410.4" stroke="#8a8a8a" stroke-width="1" fill="none" />
<path d="M30.5 337.8L30.5 344.5L21.5 347.0L44.6 425.0L70.8 515.0L86.2 569.6L94.2 566.5L97.7 575.8L180.0 547.7L300.0 507.7L400.0 475.0L499.2 443.2L496.2 434.5L503.4 435.5L507.7 412.7L496.9 411.5" stroke="#8a8a8a" stroke-width="1" fill="none" />
<path d="M30.0 344.5L130.0 358.4L250.0 376.2L370.0 393.5L496.6 411.5L498.5 412.7L495.7 434.2L400.0 465.8L300.0 497.7L180.0 538.5L94.2 566.5L77.7 515.0L52.5 425.0L30.0 344.5" stroke="#00f" stroke-width="1" fill="none" />
<path d="M64.2 364.2L130.0 371.6L250.0 388.1L370.0 406.1L444.6 416.3L496.9 413.5" stroke="#8a8a8a" stroke-width="1" fill="none" />
<path d="M64.2 367.6L130.0 375.8L206.9 385.8L236.0 390.5" stroke="#8a8a8a" stroke-width="1" fill="none" />
<path d="M36.9 372.7L60.8 365.8L63.1 362.0L63.5 372.0" stroke="#8a8a8a" stroke-width="1" fill="none" />
<path d="M62.3 372.0L71.5 425.0" stroke="#8a8a8a" stroke-width="1" fill="none" />
<path d="M59.0 373.0L66.0 373.0" stroke="#bbb" stroke-width="1" fill="none" />
<path d="M62.5 369.5L62.5 377.0" stroke="#bbb" stroke-width="1" fill="none" />
<path d="M71.0 421.7L78.0 421.7" stroke="#bbb" stroke-width="1" fill="none" />
<path d="M74.5 418.0L74.5 425.5" stroke="#bbb" stroke-width="1" fill="none" />
<path d="M118.0 541.0L180.0 521.5L300.0 482.3L370.0 460.4L446.9 434.5L444.6 428.1L444.6 416.3" stroke="#8a8a8a" stroke-width="1" fill="none" />
<path d="M83.0 529.5L107.7 525.0L111.0 544.0L137.0 538.5L145.0 549.6" stroke="#8a8a8a" stroke-width="1" fill="none" />
<path d="M296.1 409.2L309.6 409.2" stroke="#8a8a8a" stroke-width="1" fill="none" />
<path d="M296.1 409.2L309.2 457.8L320.4 459.9" stroke="#8a8a8a" stroke-width="1" fill="none" />
<path d="M309.2 384.5L306.9 403.5" stroke="#00f" stroke-width="1" fill="none" />
<path d="M317.7 384.5L313.1 407.3" stroke="#8a8a8a" stroke-width="1" fill="none" />
<path d="M72.0 431.5L75.4 432.0L160.0 444.2L250.0 456.9L300.0 464.5L365.0 470.5" stroke="#00f" stroke-width="1.6" fill="none" />
<path d="M231.5 457.0L240.8 517.0" stroke="#00f" stroke-width="1" fill="none" />
<path d="M230.0 458.5L241.5 494.0L238.0 505.0" stroke="#8a8a8a" stroke-width="1" fill="none" />
<path d="M76.0 428.8L160.0 440.8L250.0 453.6L290.0 459.5" stroke="#00f" stroke-width="1" fill="none" />
<path d="M79.2 425.0L160.0 437.2L240.0 449.0" stroke="#8a8a8a" stroke-width="1" fill="none" />
<path d="M80.0 427.5L160.0 439.5L240.0 451.5" stroke="#8a8a8a" stroke-width="1" fill="none" />
<path d="M84.0 441.5L160.0 452.8L232.0 463.0" stroke="#8a8a8a" stroke-width="1" fill="none" />
<rect x="98.5" y="433.6" width="10.2" height="1.4" fill="#fff"/>
<rect x="116.4" y="434.4" width="16.6" height="1.2" fill="#fff"/>
<path d="M93.3 423.7L99.7 447.4" stroke="#00f" stroke-width="1" fill="none" />
<path d="M112.6 427.6L119.0 449.4" stroke="#00f" stroke-width="1" fill="none" />
<path d="M148.5 433.3L153.6 453.8" stroke="#00f" stroke-width="1" fill="none" />
<path d="M184.0 438.0L190.0 459.0" stroke="#00f" stroke-width="1" fill="none" />
<path d="M222.0 442.0L227.0 465.0" stroke="#00f" stroke-width="1" fill="none" />
<path d="M264.2 378.4L279.2 425.0L297.7 500.4" stroke="#00f" stroke-width="1.6" fill="none" />
<path d="M266.9 376.5L280.8 425.0L293.0 470.0L300.0 505.0" stroke="#8a8a8a" stroke-width="1" fill="none" />
<path d="M237.2 375.3L235.1 396.5" stroke="#00f" stroke-width="1" fill="none" />
<path d="M241.2 415.0L314.2 425.7" stroke="#00f" stroke-width="1" fill="none" />
<path d="M242.7 421.0L313.6 431.7" stroke="#00f" stroke-width="1" fill="none" />
<path d="M244.3 427.5L312.9 437.1" stroke="#00f" stroke-width="1" fill="none" />
<path d="M245.8 433.5L312.3 443.0" stroke="#00f" stroke-width="1" fill="none" />
<path d="M247.3 439.5L311.8 448.4" stroke="#00f" stroke-width="1" fill="none" />
<path d="M248.8 445.5L311.1 453.8" stroke="#00f" stroke-width="1" fill="none" />
<path d="M295.6 409.6L310.6 459.8" stroke="#8a8a8a" stroke-width="1" fill="none" />
<path d="M304.6 407.2L315.4 457.4" stroke="#8a8a8a" stroke-width="1" fill="none" />
<path d="M240.0 452.6L330.0 464.6" stroke="#8a8a8a" stroke-width="1" fill="none" />
<path d="M236.9 494.6L292.3 476.2L370.0 451.0" stroke="#00f" stroke-width="1" fill="none" />
<path d="M246.0 447.0L300.0 470.0L340.0 466.0L370.0 471.0" stroke="#00f" stroke-width="1" fill="none" />
<path d="M258.0 452.0L285.0 482.0L310.0 478.0" stroke="#00f" stroke-width="1" fill="none" />
<path d="M288.0 477.0L297.0 499.0" stroke="#00f" stroke-width="1.6" fill="none" />
<path d="M286.0 478.0L293.0 500.0" stroke="#8a8a8a" stroke-width="1" fill="none" />
<rect x="256.2" y="387.8" width="27.6" height="1.2" fill="#ff0"/>
<rect x="258.0" y="389.0" width="32.0" height="1.0" fill="#fff"/>
<rect x="329.0" y="466.0" width="16.0" height="1.3" fill="#ff0"/>
<rect x="333.0" y="467.3" width="31.0" height="1.0" fill="#fff"/>
<path d="M40.8 381.5L60.0 375.5" stroke="#00f" stroke-width="1" fill="none" />
<path d="M42.6 389.0L62.0 384.0" stroke="#00f" stroke-width="1" fill="none" />
<path d="M45.7 400.4L64.0 395.5" stroke="#00f" stroke-width="1" fill="none" />
<path d="M48.8 411.5L67.0 406.5" stroke="#00f" stroke-width="1" fill="none" />
<path d="M51.2 421.0L70.0 415.5" stroke="#00f" stroke-width="1" fill="none" />
<path d="M56.2 434.0L77.7 428.8" stroke="#00f" stroke-width="1" fill="none" />
<path d="M58.9 443.5L83.8 439.6" stroke="#00f" stroke-width="1" fill="none" />
<path d="M61.5 452.7L85.4 446.5" stroke="#00f" stroke-width="1" fill="none" />
<path d="M64.6 462.7L86.9 456.5" stroke="#00f" stroke-width="1" fill="none" />
<path d="M67.2 473.0L88.5 467.3" stroke="#00f" stroke-width="1" fill="none" />
<path d="M70.8 485.0L91.5 478.8" stroke="#00f" stroke-width="1" fill="none" />
<path d="M73.8 495.8L96.2 489.6" stroke="#00f" stroke-width="1" fill="none" />
<path d="M76.5 506.5L99.2 500.4" stroke="#00f" stroke-width="1" fill="none" />
<path d="M76.2 502.0L98.5 497.3" stroke="#00f" stroke-width="1" fill="none" />
<path d="M78.5 509.6L101.5 504.2" stroke="#00f" stroke-width="1" fill="none" />
<path d="M80.8 518.0L103.8 512.7" stroke="#00f" stroke-width="1" fill="none" />
<path d="M86.2 539.6L110.0 534.2" stroke="#00f" stroke-width="1" fill="none" />
<path d="M60.8 448.1L83.8 441.9" stroke="#8a8a8a" stroke-width="1" fill="none" />
<path d="M109.2 536.5L116.2 558.0" stroke="#00f" stroke-width="1" fill="none" />
<path d="M120.8 534.2L126.9 554.2" stroke="#00f" stroke-width="1" fill="none" />
<path d="M132.3 532.0L138.5 551.0" stroke="#00f" stroke-width="1" fill="none" />
<path d="M66.2 355.0L88.5 363.9L68.5 367.0" stroke="#f00" stroke-width="1" fill="none" />
<path d="M66.2 355.0L64.2 367.6" stroke="#f00" stroke-width="1" fill="none" />
<path d="M42.0 379.6l4 -2.3v4.6z" fill="#ff0"/><path d="M44.0 380.1h15" stroke="#ff0" stroke-width="1" fill="none"/><rect x="46.3" y="377.8" width="11.2" height="1.8" fill="#f00"/>
<path d="M45.1 385.8l4 -2.3v4.6z" fill="#ff0"/><path d="M47.1 386.3h15" stroke="#ff0" stroke-width="1" fill="none"/><rect x="49.4" y="384.0" width="11.2" height="1.8" fill="#f00"/>
<path d="M44.2 393.8l4 -2.3v4.6z" fill="#ff0"/><path d="M46.2 394.3h15" stroke="#ff0" stroke-width="1" fill="none"/><rect x="48.5" y="392.0" width="11.2" height="1.8" fill="#f00"/>
<path d="M48.5 407.0l4 -2.3v4.6z" fill="#ff0"/><path d="M50.5 407.5h15" stroke="#ff0" stroke-width="1" fill="none"/><rect x="52.8" y="405.2" width="11.2" height="1.8" fill="#f00"/>
<path d="M51.5 417.6l4 -2.3v4.6z" fill="#ff0"/><path d="M53.5 418.1h15" stroke="#ff0" stroke-width="1" fill="none"/><rect x="55.8" y="415.8" width="11.2" height="1.8" fill="#f00"/>
<path d="M56.2 427.3l4 -2.3v4.6z" fill="#ff0"/><path d="M58.2 427.8h15" stroke="#ff0" stroke-width="1" fill="none"/><rect x="60.5" y="425.5" width="11.2" height="1.8" fill="#f00"/>
<path d="M63.1 455.8l4 -2.3v4.6z" fill="#ff0"/><path d="M65.1 456.3h15" stroke="#ff0" stroke-width="1" fill="none"/><rect x="67.4" y="454.0" width="11.2" height="1.8" fill="#f00"/>
<path d="M67.2 467.8l4 -2.3v4.6z" fill="#ff0"/><path d="M69.2 468.3h15" stroke="#ff0" stroke-width="1" fill="none"/><rect x="71.5" y="466.0" width="11.2" height="1.8" fill="#f00"/>
<path d="M70.3 476.5l4 -2.3v4.6z" fill="#ff0"/><path d="M72.3 477.0h15" stroke="#ff0" stroke-width="1" fill="none"/><rect x="74.6" y="474.7" width="11.2" height="1.8" fill="#f00"/>
<path d="M75.4 488.1l4 -2.3v4.6z" fill="#ff0"/><path d="M77.4 488.6h15" stroke="#ff0" stroke-width="1" fill="none"/><rect x="79.7" y="486.3" width="11.2" height="1.8" fill="#f00"/>
<path d="M77.7 500.7l4 -2.3v4.6z" fill="#ff0"/><path d="M79.7 501.2h15" stroke="#ff0" stroke-width="1" fill="none"/><rect x="82.0" y="498.9" width="11.2" height="1.8" fill="#f00"/>
<path d="M80.0 510.4l4 -2.3v4.6z" fill="#ff0"/><path d="M82.0 510.9h15" stroke="#ff0" stroke-width="1" fill="none"/><rect x="84.3" y="508.6" width="11.2" height="1.8" fill="#f00"/>
<path d="M84.3 523.9l4 -2.3v4.6z" fill="#ff0"/><path d="M86.3 524.4h15" stroke="#ff0" stroke-width="1" fill="none"/><rect x="88.6" y="522.1" width="11.2" height="1.8" fill="#f00"/>
<path d="M86.9 535.0l4 -2.3v4.6z" fill="#ff0"/><path d="M88.9 535.5h15" stroke="#ff0" stroke-width="1" fill="none"/><rect x="91.2" y="533.2" width="11.2" height="1.8" fill="#f00"/>
<path d="M257.9 421.8l4 -2.3v4.6z" fill="#ff0"/><path d="M259.9 422.3h15" stroke="#ff0" stroke-width="1" fill="none"/><rect x="262.2" y="420.0" width="11.2" height="1.8" fill="#f00"/>
<path d="M258.6 426.6l4 -2.3v4.6z" fill="#ff0"/><path d="M260.6 427.1h15" stroke="#ff0" stroke-width="1" fill="none"/><rect x="262.9" y="424.8" width="11.2" height="1.8" fill="#f00"/>
<path d="M259.2 432.7l4 -2.3v4.6z" fill="#ff0"/><path d="M261.2 433.2h15" stroke="#ff0" stroke-width="1" fill="none"/><rect x="263.5" y="430.9" width="11.2" height="1.8" fill="#f00"/>
<path d="M259.2 438.8l4 -2.3v4.6z" fill="#ff0"/><path d="M261.2 439.3h15" stroke="#ff0" stroke-width="1" fill="none"/><rect x="263.5" y="437.0" width="11.2" height="1.8" fill="#f00"/>
<path d="M261.8 445.6l4 -2.3v4.6z" fill="#ff0"/><path d="M263.8 446.1h15" stroke="#ff0" stroke-width="1" fill="none"/><rect x="266.1" y="443.8" width="11.2" height="1.8" fill="#f00"/>
<path d="M36.2 359.3l4 -2.3v4.6z" fill="#ff0"/><path d="M38.2 359.8h14" stroke="#ff0" stroke-width="1" fill="none"/><rect x="40.8" y="357.5" width="11.0" height="1.8" fill="#f00"/><rect x="53.1" y="355.0" width="8.7" height="4.3" fill="#ff0"/>
<path d="M60.8 439.2l4 -2.3v4.6z" fill="#ff0"/><path d="M62.8 439.7h21" stroke="#ff0" stroke-width="1" fill="none"/><rect x="65.4" y="437.4" width="10.8" height="1.8" fill="#f00"/><rect x="65.4" y="434.2" width="5.4" height="3.2" fill="#ff0"/>
<path d="M90.8 548.8l4 -2.3v4.6z" fill="#ff0"/><path d="M92.8 549.3h22" stroke="#ff0" stroke-width="1" fill="none"/><rect x="96.2" y="547.0" width="10.7" height="1.8" fill="#f00"/><rect x="96.2" y="544.2" width="5.6" height="3.0" fill="#ff0"/>
<path d="M138.5 368.1l4 -2.3v4.6z" fill="#ff0"/><path d="M140.5 368.6h21" stroke="#ff0" stroke-width="1" fill="none"/><rect x="143.8" y="366.3" width="10.0" height="1.8" fill="#f00"/><rect x="143.1" y="363.2" width="5.7" height="3.1" fill="#ff0"/>
<path d="M250.3 405.8l4 -2.3v4.6z" fill="#ff0"/><rect x="252.8" y="406.1" width="21.5" height="1.9" fill="#ff0"/><rect x="255.4" y="404.0" width="9.6" height="1.8" fill="#f00"/><rect x="255.4" y="400.0" width="5.4" height="4.0" fill="#ff0"/>
<path d="M247.0 464.7l4 -2.3v4.6z" fill="#ff0"/><path d="M249.0 465.2h22" stroke="#ff0" stroke-width="1" fill="none"/><rect x="251.5" y="462.9" width="11.5" height="1.8" fill="#f00"/><rect x="251.5" y="459.2" width="7.4" height="3.8" fill="#ff0"/>
<path d="M244.3 479.5l4 -2.3v4.6z" fill="#ff0"/><rect x="246.8" y="479.8" width="21.5" height="1.9" fill="#ff0"/><rect x="249.2" y="477.7" width="10.8" height="1.8" fill="#f00"/><rect x="249.2" y="474.3" width="5.7" height="3.5" fill="#ff0"/>
<path d="M262.3 496.9l4 -2.3v4.6z" fill="#ff0"/><path d="M264.3 497.4h21" stroke="#ff0" stroke-width="1" fill="none"/><rect x="266.9" y="495.1" width="10.8" height="1.8" fill="#f00"/><rect x="266.9" y="492.2" width="5.4" height="2.2" fill="none" stroke="#ff0"/>
<path d="M171.1 527.1l4 -2.3v4.6z" fill="#ff0"/><rect x="173.6" y="527.4" width="20.5" height="1.9" fill="#ff0"/><rect x="176.8" y="525.3" width="9.5" height="1.8" fill="#f00"/><rect x="176.2" y="521.4" width="5.1" height="2.2" fill="none" stroke="#ff0"/>
<path d="M476.6 422.4l4 -2.3v4.6z" fill="#ff0"/><rect x="479.1" y="422.7" width="21.0" height="1.9" fill="#ff0"/><rect x="480.8" y="420.6" width="10.0" height="1.8" fill="#f00"/><rect x="480.0" y="417.0" width="6.9" height="4.2" fill="#ff0"/>
<path d="M408.5 448.1l4 -2.3v4.6z" fill="#ff0"/><path d="M410.5 448.6h21.5" stroke="#ff0" stroke-width="1" fill="none"/><rect x="413.0" y="446.3" width="10.0" height="1.8" fill="#f00"/><rect x="412.3" y="443.5" width="5.4" height="2.0" fill="none" stroke="#ff0"/>
<rect x="116.9" y="538.0" width="2.3" height="10.8" fill="#f00"/>
<path d="M119.9 539.0L119.9 553.0" stroke="#ff0" stroke-width="1" fill="none" />
<path d="M119.7 553.5l-2.2 -3.5h4.6z" fill="#ff0"/>
<rect x="126.9" y="535.8" width="2.3" height="11.5" fill="#f00"/>
<path d="M130.0 537.0L130.0 551.0" stroke="#ff0" stroke-width="1" fill="none" />
<path d="M130 551.5l-2.2 -3.5h4.6z" fill="#ff0"/>
<path d="M235.5 398.7L241.3 398.1L245.8 412.2L239.4 414.1Z" fill="#f00" />
<path d="M151.9 523.0L167.1 519.0L168.7 524.7L153.9 529.1Z" fill="#f00" />
<path d="M219.7 500.8L233.9 496.7L235.9 502.8L221.8 506.8Z" fill="#f00" />
<path d="M301.1 409.2L305.8 408.2L309.2 422.4L304.2 424.4Z" fill="#f00" />
<path d="M386.2 445.7L401.4 441.6L402.4 446.7L388.2 450.8Z" fill="#f00" />
<path d="M235.0 398.5L239.2 414.5L245.5 412.8" stroke="#ff0" stroke-width="1" fill="none" />
<path d="M151.5 523.2L153.6 529.5" stroke="#ff0" stroke-width="1" fill="none" />
<path d="M219.3 501.0L221.4 507.2" stroke="#ff0" stroke-width="1" fill="none" />
<path d="M385.8 446.0L388.0 451.2" stroke="#ff0" stroke-width="1" fill="none" />
<path d="M301.0 424.0L304.5 425.0" stroke="#ff0" stroke-width="1" fill="none" />
<rect x="118.5" y="376.5" width="2.5" height="8.5" fill="none" stroke="#aaa"/><path d="M118.5 380.8L121.0 380.8" stroke="#aaa" stroke-width="1" fill="none" />
<rect x="84.0" y="442.0" width="3.7" height="8.1" fill="none" stroke="#aaa"/><path d="M84.0 446.1L87.7 446.1" stroke="#aaa" stroke-width="1" fill="none" />
<rect x="116.5" y="449.1" width="3.0" height="7.1" fill="none" stroke="#aaa"/><path d="M116.5 452.6L119.5 452.6" stroke="#aaa" stroke-width="1" fill="none" />
<rect x="151.9" y="453.8" width="3.0" height="6.5" fill="none" stroke="#aaa"/><path d="M151.9 457.1L154.9 457.1" stroke="#aaa" stroke-width="1" fill="none" />
<rect x="187.3" y="458.6" width="3.1" height="7.3" fill="none" stroke="#aaa"/><path d="M187.3 462.2L190.4 462.2" stroke="#aaa" stroke-width="1" fill="none" />
<rect x="224.2" y="463.9" width="3.2" height="6.5" fill="none" stroke="#aaa"/><path d="M224.2 467.1L227.4 467.1" stroke="#aaa" stroke-width="1" fill="none" />
<rect x="231.5" y="491.6" width="3.4" height="8.1" fill="none" stroke="#aaa"/><path d="M231.5 495.6L234.9 495.6" stroke="#aaa" stroke-width="1" fill="none" />
<rect x="170.1" y="509.9" width="3.5" height="9.1" fill="none" stroke="#aaa"/><path d="M170.1 514.5L173.6 514.5" stroke="#aaa" stroke-width="1" fill="none" />
<rect x="110.0" y="530.1" width="3.4" height="8.1" fill="none" stroke="#aaa"/><path d="M110.0 534.2L113.4 534.2" stroke="#aaa" stroke-width="1" fill="none" />
<rect x="306.2" y="405.2" width="3.4" height="8.1" fill="none" stroke="#aaa"/><path d="M306.2 409.2L309.6 409.2" stroke="#aaa" stroke-width="1" fill="none" />
<rect x="343.7" y="453.8" width="3.4" height="8.1" fill="none" stroke="#aaa"/><path d="M343.7 457.9L347.1 457.9" stroke="#aaa" stroke-width="1" fill="none" />
<rect x="434.2" y="423.4" width="3.2" height="7.1" fill="none" stroke="#aaa"/><path d="M434.2 426.9L437.4 426.9" stroke="#aaa" stroke-width="1" fill="none" />
<rect x="37.0" y="367.0" width="3.5" height="1.4" fill="#7a7a20"/>
<rect x="45.0" y="374.0" width="3.5" height="1.4" fill="#7a7a20"/>
<rect x="75.0" y="362.0" width="3.5" height="1.4" fill="#7a7a20"/>
<rect x="99.0" y="367.0" width="3.5" height="1.4" fill="#7a7a20"/>
<rect x="140.0" y="374.5" width="3.5" height="1.4" fill="#7a7a20"/>
<rect x="215.0" y="384.0" width="3.5" height="1.4" fill="#7a7a20"/>
<rect x="222.0" y="385.5" width="3.5" height="1.4" fill="#7a7a20"/>
<rect x="264.0" y="372.0" width="3.5" height="1.4" fill="#7a7a20"/>
<rect x="268.0" y="395.0" width="3.5" height="1.4" fill="#7a7a20"/>
<rect x="312.0" y="396.0" width="3.5" height="1.4" fill="#7a7a20"/>
<rect x="380.0" y="406.0" width="3.5" height="1.4" fill="#7a7a20"/>
<rect x="468.0" y="415.5" width="3.5" height="1.4" fill="#7a7a20"/>
<rect x="504.0" y="422.0" width="3.5" height="1.4" fill="#7a7a20"/>
<rect x="69.0" y="444.0" width="3.5" height="1.4" fill="#7a7a20"/>
<rect x="73.0" y="451.0" width="3.5" height="1.4" fill="#7a7a20"/>
<rect x="145.0" y="429.0" width="3.5" height="1.4" fill="#7a7a20"/>
<rect x="102.0" y="434.0" width="3.5" height="1.4" fill="#7a7a20"/>
<rect x="221.0" y="450.0" width="3.5" height="1.4" fill="#7a7a20"/>
<rect x="233.0" y="451.0" width="3.5" height="1.4" fill="#7a7a20"/>
<rect x="292.0" y="486.0" width="3.5" height="1.4" fill="#7a7a20"/>
<rect x="295.0" y="507.0" width="3.5" height="1.4" fill="#7a7a20"/>
</g>
</svg>
</body></html>
